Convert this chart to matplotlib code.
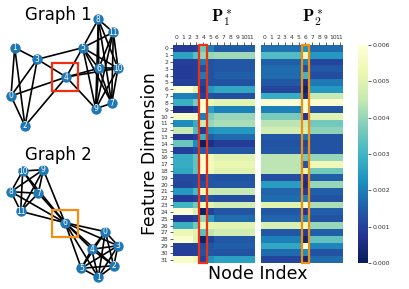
"""Two graphs with their node-feature heatmaps."""
import numpy as np
import matplotlib; matplotlib.use('Agg')
import matplotlib.pyplot as plt
from matplotlib.patches import Rectangle

W, H = 409, 289
CMAP = 'YlGnBu_r'
VMAX = 0.006
plt.rcParams['mathtext.fontset'] = 'cm'

# graph 1, node positions read in picture pixels
g1_x = [11, 14.7, 25, 37.3, 66.3, 82.7, 98.7, 111.7, 98.3, 95.7, 118, 113.3]
g1_y = [96, 47.7, 126, 59.3, 77, 47.7, 68.3, 103.3, 19.3, 108.7, 68.3, 32.3]
g1_edges = [(0,1),(0,2),(0,3),(0,4),(1,2),(1,3),(2,3),(2,4),(3,4),(3,5),(4,5),(4,6),(4,10),(4,9),
            (5,6),(5,7),(5,8),(5,9),(5,10),(5,11),(6,7),(6,8),(6,9),(6,10),(6,11),(7,8),(7,9),
            (7,10),(7,11),(8,9),(8,10),(8,11),(9,10),(9,11),(10,11)]

# graph 2
g2_x = [105.3, 98.3, 113.7, 118, 91.7, 81.3, 65, 38.3, 11, 43.3, 22.7, 20.7]
g2_y = [231.7, 277.3, 265.7, 245.7, 249.3, 268.3, 222.7, 193.3, 191.7, 169.7, 171, 211.3]
g2_edges = [(0,1),(0,2),(0,3),(0,4),(0,5),(1,2),(1,3),(1,4),(1,5),(2,3),(2,4),(2,5),(3,4),(3,5),(4,5),
            (6,0),(6,1),(6,2),(6,3),(6,4),(6,5),(6,7),(6,8),(6,9),(6,10),(6,11),
            (7,8),(7,9),(7,10),(7,11),(8,9),(8,10),(8,11),(9,10),(9,11),(10,11)]

# P1 columns, in units of 0.001: nodes 0-2, node 3, node 4, node 5, nodes 6-11
p1_left = [.9,2.6,.95,.9,.9,1.0,5.9,2.0,2.9,.6,5.7,2.2,4.5,.8,3.5,.95,2.8,2.8,2.7,1.15,1.1,2.4,.85,3.0,5.9,.75,2.9,5.3,5.8,1.0,.95,5.7]
p1_n3 = [1.0,3.3,1.0,.95,.95,1.0,5.0,1.9,3.7,.9,5.6,2.8,3.2,1.0,2.2,1.2,3.4,3.4,3.4,1.2,1.2,3.1,.95,3.6,5.0,1.0,3.6,5.0,4.9,1.0,1.0,5.4]
p1_n4 = [3.6,4.0,1.9,1.2,1.9,1.1,.8,1.0,5.8,5.9,2.0,4.6,.9,2.9,.1,1.5,5.7,5.8,5.9,1.0,1.2,5.4,1.2,5.5,.2,4.0,5.4,3.3,.2,1.2,1.3,1.0]
p1_n5 = [2.0,4.0,1.3,1.3,1.3,1.3,2.4,1.3,5.2,2.5,3.7,4.0,2.3,1.5,.6,1.4,5.4,5.5,5.4,1.35,1.35,4.6,1.3,5.0,1.0,2.4,5.1,4.4,1.0,1.4,1.35,2.3]
p1_right = [1.5,4.1,1.4,1.4,1.5,1.3,2.7,1.2,5.0,2.0,4.0,4.2,2.4,1.7,.9,1.4,5.0,5.2,5.0,1.3,1.4,4.5,1.2,4.7,1.35,1.7,5.0,4.7,1.4,1.5,1.3,2.6]

# P2 columns: nodes 0-5, node 6, nodes 7-11
p2_left = [1.8,3.2,1.5,1.7,1.7,1.4,1.1,2.8,5.9,2.0,3.7,4.4,4.7,1.4,1.3,1.4,4.4,4.4,4.4,1.2,2.5,1.6,1.7,5.0,1.4,1.6,4.8,1.4,2.0,2.7,1.7,1.1]
p2_n6 = [2.3,5.5,2.0,1.2,3.0,.6,.2,.5,5.9,5.9,.8,4.6,4.8,1.8,1.1,1.3,3.7,1.4,5.2,.7,.5,.9,2.0,5.9,.8,2.0,5.4,.9,.3,5.9,2.2,.3]
p2_right = [1.7,2.4,1.1,1.4,1.2,1.9,2.4,4.5,5.8,1.4,5.0,3.6,3.9,1.3,1.3,1.3,4.0,5.4,3.6,1.5,4.0,1.5,1.3,4.2,1.5,1.3,4.0,1.5,3.4,2.1,1.3,1.7]

col_labels = [str(i) for i in range(12)]
row_labels = [str(i) for i in range(32)]
cbar_ticks = [0, .001, .002, .003, .004, .005, .006]


def px_axes(fig, l, t, r, b):
    return fig.add_axes([l / W, 1 - b / H, (r - l) / W, (b - t) / H])


def draw_graph(ax, xs, ys, edges):
    for a, b in edges:
        ax.plot([xs[a], xs[b]], [ys[a], ys[b]], color='black', lw=1.2, zorder=1, solid_capstyle='round')
    ax.scatter(xs, ys, s=56, color='#1f78b4', linewidths=0, zorder=2)
    for i, (x, y) in enumerate(zip(xs, ys)):
        ax.text(x, y, str(i), color='white', fontsize=5.5, ha='center', va='center', zorder=3)


def heatmap(ax, data, show_rows, hl_col, hl_color):
    ax.imshow(data * 1e-3, cmap=CMAP, vmin=0, vmax=VMAX, aspect='auto', interpolation='nearest')
    ax.xaxis.tick_top()
    ax.set_xticks(range(12), col_labels, fontsize=4.3)
    ax.tick_params(axis='x', length=2, width=.5, pad=1.5, color='#222222', labelcolor='#333333')
    if show_rows:
        ax.set_yticks(range(32), row_labels, fontsize=4.3)
        ax.tick_params(axis='y', length=2, width=.5, pad=1.2, color='#222222', labelcolor='#333333')
    else:
        ax.set_yticks([])
    for s in ax.spines.values():
        s.set_visible(False)
    ax.add_patch(Rectangle((hl_col - .55, -.5), 1.1, 32, fill=False, ec=hl_color, lw=1.6, clip_on=False, zorder=5))


p1 = np.column_stack([p1_left] * 3 + [p1_n3, p1_n4, p1_n5] + [p1_right] * 6)
p2 = np.column_stack([p2_left] * 6 + [p2_n6] + [p2_right] * 5)

fig = plt.figure(figsize=(W / 100, H / 100), dpi=100)

bg = fig.add_axes([0, 0, 1, 1])
bg.set_xlim(0, W); bg.set_ylim(H, 0); bg.axis('off')
draw_graph(bg, g1_x, g1_y, g1_edges)
draw_graph(bg, g2_x, g2_y, g2_edges)
bg.add_patch(Rectangle((51.7, 63.3), 26, 27.4, fill=False, ec='#f03010', lw=1.6, zorder=4))
bg.add_patch(Rectangle((51.7, 210), 26, 27, fill=False, ec='#f28e10', lw=1.6, zorder=4))
bg.text(58.5, 15.5, 'Graph 1', fontsize=12, ha='center', va='center')
bg.text(58.5, 155.5, 'Graph 2', fontsize=12, ha='center', va='center')
bg.text(150, 154, 'Feature Dimension', fontsize=12.4, rotation=90, ha='center', va='center')
bg.text(258, 274, 'Node Index', fontsize=12.5, ha='center', va='center')
bg.text(221.5, 18.5, r'$\mathbf{P}_1^*$', fontsize=12, ha='center', va='center')
bg.text(313, 18.5, r'$\mathbf{P}_2^*$', fontsize=12, ha='center', va='center')

ax1 = px_axes(fig, 172.7, 45, 254, 263)
heatmap(ax1, p1, True, 4, '#f03010')
ax2 = px_axes(fig, 261, 45, 343, 263)
heatmap(ax2, p2, False, 6, '#f28e10')

cax = px_axes(fig, 358, 45, 368, 263)
grad = np.linspace(VMAX, 0, 256)[:, None]
cax.imshow(grad, cmap=CMAP, vmin=0, vmax=VMAX, aspect='auto', extent=[0, 1, 0, VMAX])
cax.set_xticks([])
cax.yaxis.tick_right()
cax.set_yticks(cbar_ticks, [f'{t:.3f}' for t in cbar_ticks], fontsize=4.5)
cax.tick_params(axis='y', length=2, width=.5, pad=1.5, color='#222222', labelcolor='#333333')
for s in cax.spines.values():
    s.set_visible(False)

plt.savefig('out.png', dpi=100)
plt.close()
